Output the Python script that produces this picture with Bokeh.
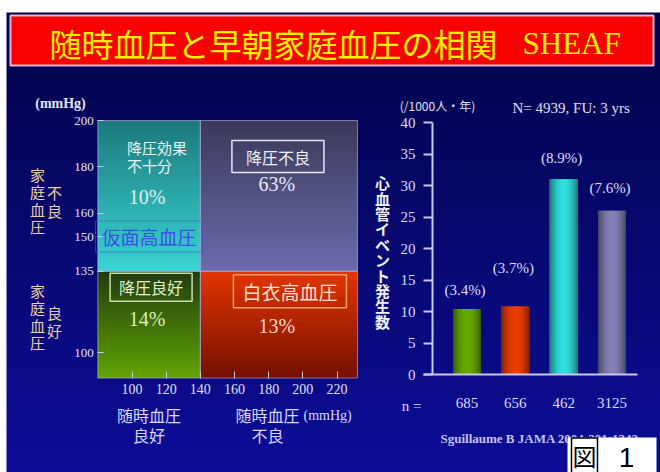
import numpy as np
from bokeh.plotting import figure
from bokeh.models import Range1d, LinearAxis, FixedTicker
from bokeh.core.properties import value
from bokeh.embed import file_html
from bokeh.resources import INLINE

# ---------------- data ----------------
title_jp = "随時血圧と早朝家庭血圧の相関"
title_en = "SHEAF"

clinic_ticks = [100, 120, 140, 160, 180, 200, 220]
home_ticks = [100, 135, 150, 160, 180, 200]
clinic_limit = 140
home_limit = 135
clinic_span = [80, 232]
home_span = [89, 200]

quad_names = ["降圧効果\n不十分", "降圧不良", "降圧良好", "白衣高血圧"]
quad_share = [10, 63, 14, 13]
masked_name = "仮面高血圧"
masked_home = 150

groups = ["降圧良好", "白衣高血圧", "仮面高血圧", "降圧不良"]
n_subjects = [685, 656, 462, 3125]
event_rate = [10.4, 10.8, 31.0, 26.0]
event_pct = [3.4, 3.7, 8.9, 7.6]
rate_ticks = [0, 5, 10, 15, 20, 25, 30, 35, 40]
rate_span = [0, 40]

citation = "Sguillaume B  JAMA  2004;291:1342"

# ---------------- layout helpers ----------------
W, H = 660, 472
OFF = 0
JP = value("Noto Sans CJK JP")
SERIF = value("Liberation Serif")
SANS = value("Liberation Sans")
SERIF_NAME = "Liberation Serif"
CJK_LH = 1.448  # line box of Noto Sans CJK in em


def X(px):
    return px - OFF


def Y(py):
    return H + OFF - py


def lh(spacing, size):
    return spacing / (size * CJK_LH)


def scale_range(v1, p1, v2, p2, lo, hi):
    k = (v2 - v1) / (p2 - p1)
    return Range1d(start=v1 + (lo - p1) * k, end=v1 + (hi - p1) * k)


def inv(rng, lo, hi, px):
    return rng.start + (px - lo) * (rng.end - rng.start) / (hi - lo)


def hex_rgb(h):
    h = h.lstrip("#")
    return np.array([int(h[i:i + 2], 16) for i in (0, 2, 4)], dtype=float)


def to_img(rgb, shape):
    img = np.empty(shape, dtype=np.uint32)
    v = img.view(dtype=np.uint8).reshape(shape + (4,))
    rgb = np.clip(rgb, 0, 255).reshape(shape + (3,))
    v[..., 0] = rgb[..., 0]
    v[..., 1] = rgb[..., 1]
    v[..., 2] = rgb[..., 2]
    v[..., 3] = 255
    return img


def vgrad(top, bottom, n=160):
    t = np.linspace(0, 1, n)
    b, tp = hex_rgb(bottom), hex_rgb(top)
    rgb = b[None, :] + (tp - b)[None, :] * t[:, None]
    return to_img(rgb, (n, 1))


def hshade(color, n=48):
    t = np.linspace(-1, 1, n)
    f = 1.12 - 0.5 * t ** 2
    rgb = hex_rgb(color)[None, :] * f[:, None]
    return to_img(rgb, (1, n))


lx = scale_range(100, 131.5, 220, 336.5, OFF, OFF + W)
ly = scale_range(200, 120, 100, 352, OFF + H, OFF)
rx = scale_range(1, 466.5, 4, 611.5, OFF, OFF + W)
ry = scale_range(0, 374, 40, 122, OFF + H, OFF)

p = figure(width=W, height=H, output_backend="svg", toolbar_location=None,
           x_range=Range1d(0, W), y_range=Range1d(0, H),
           x_axis_type=None, y_axis_type=None, min_border=0,
           background_fill_color="white", border_fill_color="white",
           outline_line_color=None)
p.extra_x_ranges = {"lx": lx, "rx": rx}
p.extra_y_ranges = {"ly": ly, "ry": ry}

# slide background
p.image_rgba(image=[vgrad("#04044a", "#0d0d98")], x=X(6), y=0, dw=W, dh=Y(12))

# title bar
p.quad(left=X(10), right=X(653), top=Y(15), bottom=Y(65),
       fill_color="#f80000", line_color="#e4b4d4", line_width=2)
p.text(x=[X(49)], y=[Y(42)], text=[title_jp], text_font=JP, text_font_size="32px",
       text_color="#fff000", text_align="left", text_baseline="middle")
p.text(x=[X(522)], y=[Y(43)], text=[title_en], text_font=SERIF, text_font_size="31px",
       text_color="#fff000", text_align="left", text_baseline="middle")

# ---------------- left chart: quadrants ----------------
q_left = [clinic_span[0], clinic_limit, clinic_span[0], clinic_limit]
q_right = [clinic_limit, clinic_span[1], clinic_limit, clinic_span[1]]
q_bottom = [home_limit, home_limit, home_span[0], home_span[0]]
q_top = [home_span[1], home_span[1], home_limit, home_limit]
q_grad = [("#1c7a7c", "#3ad6d6"), ("#3a3a5a", "#6c6cae"),
          ("#223c12", "#62a404"), ("#e43600", "#761000")]
for i in range(4):
    p.image_rgba(image=[vgrad(*q_grad[i])], x=q_left[i], y=q_bottom[i],
                 dw=q_right[i] - q_left[i], dh=q_top[i] - q_bottom[i],
                 x_range_name="lx", y_range_name="ly")
p.quad(left=q_left, right=q_right, top=q_top, bottom=q_bottom,
       fill_alpha=0, line_color="#b8b8e8", line_alpha=0.6, line_width=1,
       x_range_name="lx", y_range_name="ly")

# quadrant labels
name_align = ["left", "center", "center", "center"]
name_dx = [-22, -1, 2, 11]
name_dy = [36, 36, 16, 20]
name_size = [15, 16, 16, 19]
name_color = ["#e8f4f4", "#f0f0f8", "#e0f0c8", "#fae0d0"]
name_border = [None, "#e8e8f4", "#c8e0a8", "#f0a070"]
name_pad = [0, (14, 4), (9, 2), (9, 3)]
share_dx = [-2, -2, -2, -2]
share_dy = [76, 63, 48, 55]
share_color = ["#e0f0f0", "#e8e8f4", "#d8f0b0", "#f8d8c8"]
for i in range(4):
    cx = (q_left[i] + q_right[i]) / 2
    p.text(x=[cx], y=[q_top[i]], text=[quad_names[i]], x_offset=name_dx[i], y_offset=name_dy[i],
           text_font=JP, text_font_size=f"{name_size[i]}px", text_color=name_color[i],
           text_align=name_align[i], text_baseline="middle",
           text_line_height=lh(18, name_size[i]),
           border_line_color=name_border[i], border_line_width=1.5, padding=name_pad[i],
           x_range_name="lx", y_range_name="ly")
    p.text(x=[cx], y=[q_top[i]], text=[f"{quad_share[i]}%"], x_offset=share_dx[i], y_offset=share_dy[i],
           text_font=SERIF, text_font_size="20px", text_color=share_color[i],
           text_align="center", text_baseline="middle",
           x_range_name="lx", y_range_name="ly")

p.text(x=[(clinic_span[0] + clinic_limit) / 2], y=[masked_home], text=[masked_name],
       text_font=JP, text_font_size="19px", text_color="#3c4ee6",
       text_align="center", text_baseline="middle",
       border_line_color="#4060c0", border_line_alpha=0.6, border_line_width=1,
       padding=(6, 2), x_range_name="lx", y_range_name="ly")

# left axes
ay_l = LinearAxis(x_range_name="lx", y_range_name="ly", fixed_location=clinic_span[0],
                  ticker=FixedTicker(ticks=home_ticks), axis_line_color=None,
                  major_tick_in=6, major_tick_out=0, minor_tick_line_color=None,
                  major_tick_line_color="#c8c8e8", major_label_standoff=4,
                  major_label_text_font=SERIF_NAME, major_label_text_font_size="13px",
                  major_label_text_color="#e0e0f0")
p.add_layout(ay_l, "left")
ax_l = LinearAxis(x_range_name="lx", y_range_name="ly", fixed_location=home_span[0],
                  ticker=FixedTicker(ticks=clinic_ticks), axis_line_color=None,
                  major_tick_in=7, major_tick_out=0, minor_tick_line_color=None,
                  major_tick_line_color="#c8c8e8", major_label_standoff=6,
                  major_label_text_font=SERIF_NAME, major_label_text_font_size="14px",
                  major_label_text_color="#e0e0f0")
p.add_layout(ax_l, "below")

# left chart captions
p.text(x=[X(60)], y=[Y(103)], text=["(mmHg)"], text_font=SERIF, text_font_size="14px",
       text_font_style="bold", text_color="#e4e4f4", text_align="center", text_baseline="middle")
p.text(x=[X(37), X(54), X(37), X(54)], y=[Y(200), Y(201), Y(316), Y(321)],
       text=["家\n庭\n血\n圧", "不\n良", "家\n庭\n血\n圧", "良\n好"],
       text_font=JP, text_font_size="15px", text_color="#e8d0a4", text_line_height=lh(18, 15),
       text_align="center", text_baseline="middle")
p.text(x=[X(148.5), X(267)], y=[Y(424.5), Y(424.5)], text=["随時血圧\n良好", "随時血圧\n不良"],
       text_font=JP, text_font_size="16px", text_color="#d8d8f4", text_line_height=lh(19, 16),
       text_align="center", text_baseline="middle")
p.text(x=[X(303)], y=[Y(415)], text=["(mmHg)"], text_font=SERIF, text_font_size="14px",
       text_color="#d8d8f4", text_align="left", text_baseline="middle")

# ---------------- right chart: bars ----------------
idx = list(range(1, len(groups) + 1))
bar_w = 0.58
bar_colors = ["#5a9800", "#d43800", "#2cc8c8", "#7474a4"]
p.vbar(x=idx, top=event_rate, bottom=0, width=bar_w, fill_color=bar_colors, line_color=None,
       x_range_name="rx", y_range_name="ry")
p.image_rgba(image=[hshade(c) for c in bar_colors], x=[i - bar_w / 2 for i in idx],
             y=[0] * len(idx), dw=[bar_w] * len(idx), dh=event_rate,
             x_range_name="rx", y_range_name="ry")
pct_lift = [-19, -38, -21, -23]
p.text(x=idx, y=event_rate, text=[f"({v:.1f}%)" for v in event_pct], y_offset=pct_lift,
       x_offset=-2, text_font=SERIF, text_font_size="15px", text_color="#dcdcf4",
       text_align="center", text_baseline="middle", x_range_name="rx", y_range_name="ry")

ay_r = LinearAxis(x_range_name="rx", y_range_name="ry",
                  fixed_location=inv(rx, OFF, OFF + W, 432), bounds=tuple(rate_span),
                  ticker=FixedTicker(ticks=rate_ticks), axis_line_color="#c8c8e8",
                  axis_line_width=2, major_tick_in=0, major_tick_out=9,
                  major_tick_line_color="#c8c8e8", major_tick_line_width=2,
                  minor_tick_line_color=None, major_label_standoff=8,
                  major_label_text_font=SERIF_NAME, major_label_text_font_size="15px",
                  major_label_text_color="#dcdcf4")
p.add_layout(ay_r, "left")
ax_r = LinearAxis(x_range_name="rx", y_range_name="ry", fixed_location=rate_span[0],
                  bounds=(inv(rx, OFF, OFF + W, 423), inv(rx, OFF, OFF + W, 637)),
                  ticker=FixedTicker(ticks=idx),
                  major_label_overrides={i: str(n) for i, n in zip(idx, n_subjects)},
                  axis_line_color="#c8c8e8", axis_line_width=2,
                  major_tick_in=0, major_tick_out=0, minor_tick_line_color=None,
                  major_label_standoff=23, major_label_text_font=SERIF_NAME,
                  major_label_text_font_size="15px", major_label_text_color="#dcdcf4")
p.add_layout(ax_r, "below")

# right chart captions
p.text(x=[X(437)], y=[Y(105)], text=["(/1000人・年)"], text_font=JP, text_font_size="12px",
       text_color="#e0e0f0", text_align="center", text_baseline="middle")
p.text(x=[X(512)], y=[Y(107)], text=["N= 4939, FU: 3 yrs"], text_font=SERIF, text_font_size="15px",
       text_color="#e0e0f0", text_align="left", text_baseline="middle")
p.text(x=[X(382)], y=[Y(251.5)], text=["\n".join("心血管イベント発生数")], text_font=JP,
       text_font_size="15px", text_font_style="bold", text_color="#f0f0f8",
       text_line_height=lh(15.9, 15), text_align="center", text_baseline="middle")
p.text(x=[X(411)], y=[Y(405)], text=["n ="], text_font=SERIF, text_font_size="15px",
       text_color="#dcdcf4", text_align="center", text_baseline="middle")
p.text(x=[X(440)], y=[Y(438)], text=[citation], text_font=SERIF, text_font_size="13px",
       text_font_style="bold", text_color="#c4c4ec", text_align="left", text_baseline="middle")

# figure tag
p.quad(left=X(567), right=X(656), top=Y(437), bottom=Y(474), fill_color="white", line_color=None)
p.text(x=[X(584)], y=[Y(455)], text=["図"], text_font=JP, text_font_size="24px",
       text_color="black", text_align="center", text_baseline="middle",
       border_line_color="black", border_line_width=1.5, padding=(1, 0))
p.text(x=[X(626)], y=[Y(457)], text=["1"], text_font=SANS, text_font_size="28px",
       text_color="black", text_align="center", text_baseline="middle")

open("out.html", "w").write(file_html(p, INLINE))
